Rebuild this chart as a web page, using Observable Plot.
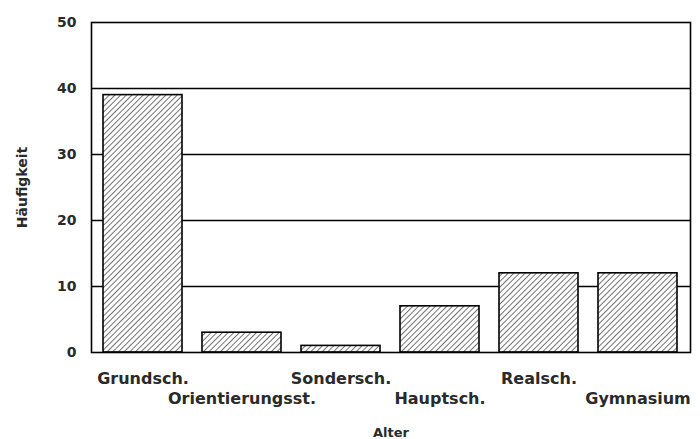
<!DOCTYPE html>
<html>
<head>
<meta charset="utf-8">
<script src="https://cdn.jsdelivr.net/npm/d3@7"></script>
<script src="https://cdn.jsdelivr.net/npm/@observablehq/plot@0.6"></script>
<style>
  html, body { margin: 0; padding: 0; background: #fff; }
  #chart svg { display: block; }
</style>
</head>
<body>
<div id="chart"></div>
<script>
const categories = ["Grundsch.", "Orientierungsst.", "Sondersch.", "Hauptsch.", "Realsch.", "Gymnasium"];
const values = [39, 3, 1, 7, 12, 12];
const yTicks = [0, 10, 20, 30, 40, 50];
const gridValues = [10, 20, 30, 40];
const xLabel = "Alter";
const yLabel = "Häufigkeit";

const data = categories.map((c, i) => ({ category: c, value: values[i] }));
const upper = categories.filter((_, i) => i % 2 === 0);
const lower = categories.filter((_, i) => i % 2 === 1);

const font = "DejaVu Sans, sans-serif";

const chart = Plot.plot({
  width: 700,
  height: 439,
  marginLeft: 91,
  marginRight: 10,
  marginTop: 22,
  marginBottom: 87,
  style: { fontFamily: font, fontSize: "15px", fontWeight: "bold", color: "#2a2a2a", background: "#fff" },
  x: { domain: categories, paddingInner: 0.2, paddingOuter: 0.1, label: null },
  y: { domain: [0, 50], label: null },
  marks: [
    Plot.ruleY(gridValues, { stroke: "#000", strokeWidth: 1.4 }),
    Plot.barY(data, { x: "category", y: "value", fill: "url(#hatch)", stroke: "#000", strokeWidth: 1.6 }),
    Plot.frame({ stroke: "#000", strokeWidth: 1.6 }),
    Plot.axisY({ ticks: yTicks, tickSize: 0, tickPadding: 15, fontSize: 14, label: null }),
    Plot.axisX({ ticks: upper, tickSize: 0, tickPadding: 20, fontSize: 16, label: null }),
    Plot.axisX({ ticks: lower, tickSize: 0, tickPadding: 40, fontSize: 16, label: null }),
    Plot.text([xLabel], { frameAnchor: "bottom", dy: 80, fontSize: 13, textAnchor: "middle", lineAnchor: "middle", text: d => d }),
    Plot.text([yLabel], { frameAnchor: "left", dx: -69, rotate: -90, fontSize: 14, textAnchor: "middle", text: d => d })
  ]
});

// hatch pattern definition
const ns = "http://www.w3.org/2000/svg";
const defs = document.createElementNS(ns, "defs");
const pat = document.createElementNS(ns, "pattern");
pat.setAttribute("id", "hatch");
pat.setAttribute("patternUnits", "userSpaceOnUse");
pat.setAttribute("width", "4");
pat.setAttribute("height", "4");
pat.setAttribute("patternTransform", "rotate(45)");
const bg = document.createElementNS(ns, "rect");
bg.setAttribute("width", "4");
bg.setAttribute("height", "4");
bg.setAttribute("fill", "#fff");
const ln = document.createElementNS(ns, "line");
ln.setAttribute("x1", "0"); ln.setAttribute("y1", "0");
ln.setAttribute("x2", "0"); ln.setAttribute("y2", "4");
ln.setAttribute("stroke", "#000");
ln.setAttribute("stroke-width", "1.1");
pat.appendChild(bg);
pat.appendChild(ln);
defs.appendChild(pat);
chart.insertBefore(defs, chart.firstChild);

document.getElementById("chart").appendChild(chart);
</script>
</body>
</html>
